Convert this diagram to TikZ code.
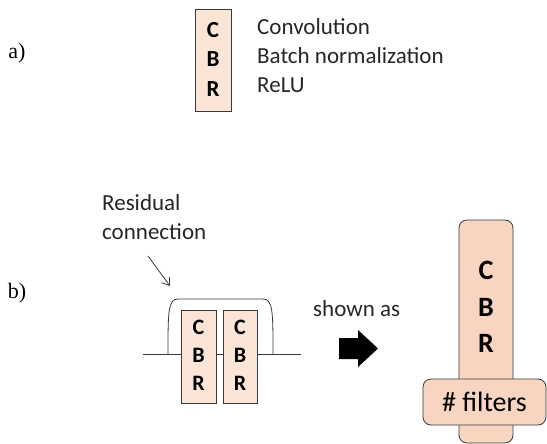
\documentclass[tikz,border=0pt]{standalone}
\usepackage{fontspec}
\setmainfont{Carlito}
\newfontfamily\timesf{Liberation Serif}
\usetikzlibrary{arrows.meta}
\definecolor{peachL}{HTML}{FBE5D6}
\definecolor{peachD}{HTML}{F8D5C0}
\definecolor{edge}{HTML}{3A3A3A}
\begin{document}
\begin{tikzpicture}[x=1pt,y=-1pt,
  lbl/.style={font=\fontsize{23}{27}\selectfont, inner sep=0pt, text=black!85},
  panel/.style={font=\timesf\fontsize{22}{26}\selectfont, inner sep=0pt},
  cbrbox/.style={draw=edge, fill=peachL, line width=0.8pt, inner sep=0pt},
  bigbox/.style={draw=edge, fill=peachD, line width=0.8pt, inner sep=0pt, rounded corners=8pt},
  letters/.style={font=\bfseries\fontsize{22}{28}\selectfont, align=center, inner sep=0pt},
  bigletters/.style={font=\bfseries\fontsize{28}{36.5}\selectfont, align=center, inner sep=0pt},
  wire/.style={draw=edge, line width=0.8pt}
]
\useasboundingbox (0,0) rectangle (547,444);

% ---------- panel a ----------
\node[panel] (pa) at (17,53) {a)};
\node[cbrbox, minimum width=36pt, minimum height=102pt] (boxa) at (213,60) {};
\node[letters, font=\bfseries\fontsize{23}{29.5}\selectfont] (la) at ([yshift=1pt]boxa.center) {C\\B\\R};
\node[lbl, anchor=mid west] (tc) at (257,32) {Convolution};
\node[lbl, anchor=mid west] (tb) at (257,61) {Batch normalization};
\node[lbl, anchor=mid west] (tr) at (257,90) {ReLU};

% ---------- panel b ----------
\node[panel] (pb) at (17,293) {b)};
\node[lbl, anchor=mid west] (res1) at (102,208) {Residual};
\node[lbl, anchor=mid west] (res2) at (102,237) {connection};
\coordinate (arS) at (148,256);
\coordinate (arE) at (170,286);
\draw[wire, -{Straight Barb[length=7pt,width=10pt]}] (arS) -- (arE);

\coordinate (inL) at (143,354);
\coordinate (inR) at (301,354);
\draw[wire] (inL) -- (inR);
\draw[wire] (168,354) .. controls (168,312) and (168,299) .. (178,299) -- (263,299) .. controls (273,299) and (273,312) .. (273,354);

\node[cbrbox, minimum width=35pt, minimum height=93pt] (b1) at (198.5,356.5) {};
\node[cbrbox, minimum width=34pt, minimum height=93pt] (b2) at (240,356.5) {};
\node[letters] (l1) at ([yshift=1pt]b1.center) {C\\B\\R};
\node[letters] (l2) at ([yshift=1pt]b2.center) {C\\B\\R};

\node[lbl, anchor=mid west] (shown) at (313,314) {shown as};
\fill[black] (339,338) -- (358,338) -- (358,330) -- (378,348.5) -- (358,367) -- (358,359) -- (339,359) -- cycle;

\node[bigbox, minimum width=54pt, minimum height=223pt] (big) at (486,331.5) {};
\node[bigletters] (lb) at (486,307) {C\\B\\R};
\node[bigbox, minimum width=123pt, minimum height=46pt, font=\fontsize{28}{32}\selectfont] (filt) at (484.5,402) {\# filters};
\end{tikzpicture}
\end{document}
